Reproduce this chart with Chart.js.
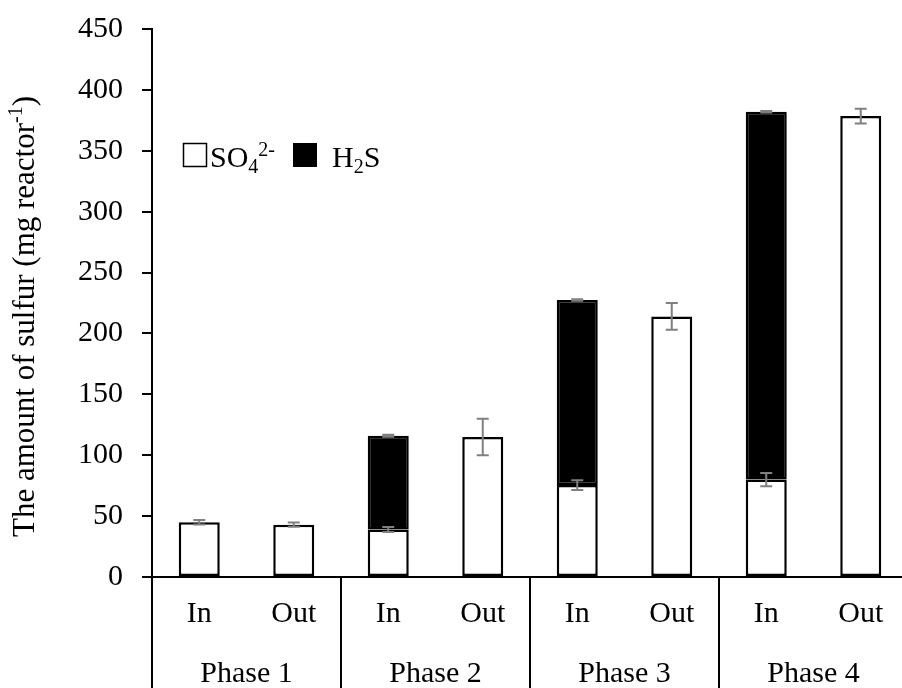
<!DOCTYPE html>
<html>
<head>
<meta charset="utf-8">
<script src="https://cdn.jsdelivr.net/npm/chart.js@4"></script>
<style>
html, body { margin: 0; padding: 0; background: #fff; overflow: hidden; }
#wrap { width: 908px; height: 688px; }
</style>
</head>
<body>
<div id="wrap"><canvas id="chart" width="908" height="688"></canvas></div>
<script>
// data
const categories = ['In', 'Out', 'In', 'Out', 'In', 'Out', 'In', 'Out'];
const phases = ['Phase 1', 'Phase 2', 'Phase 3', 'Phase 4'];
const so4 = [45, 43, 39, 115, 75.5, 214, 80, 378.5];
const so4Err = [1.8, 1.8, 2, 15, 4, 11, 5.5, 6];
const h2s = [null, null, 77, null, 152, null, 302, null];
const h2sErr = [0, 0, 0.8, 0, 0.6, 0, 0.6, 0];

const serif = "'Liberation Serif', 'Times New Roman', serif";
Chart.defaults.font.family = serif;
Chart.defaults.font.size = 30;
Chart.defaults.color = '#000';

// text with sub / superscripts
function drawRich(ctx, parts, x, y, size) {
    parts.forEach(([t, kind]) => {
        const s = kind ? Math.round(size * 0.65) : size;
        ctx.font = s + 'px ' + serif;
        const dy = kind === 'sub' ? size * 0.2 : kind === 'sup' ? -size * 0.38 : 0;
        ctx.fillText(t, x, y + dy);
        x += ctx.measureText(t).width;
    });
    return x;
}

const errorBars = {
    id: 'errorBars',
    afterDatasetsDraw(chart) {
        const ctx = chart.ctx, y = chart.scales.y;
        ctx.save();
        ctx.strokeStyle = '#808080';
        ctx.lineWidth = 2;
        chart.data.datasets.forEach((ds, di) => {
            const meta = chart.getDatasetMeta(di);
            meta.data.forEach((bar, i) => {
                const err = ds.errors[i];
                if (!err || ds.data[i] == null) return;
                let top = 0;
                for (let k = 0; k <= di; k++) top += chart.data.datasets[k].data[i] || 0;
                const y1 = y.getPixelForValue(top + err);
                const y2 = y.getPixelForValue(top - err);
                const c = 6;
                ctx.beginPath();
                ctx.moveTo(bar.x, y1); ctx.lineTo(bar.x, y2);
                ctx.moveTo(bar.x - c, y1); ctx.lineTo(bar.x + c, y1);
                ctx.moveTo(bar.x - c, y2); ctx.lineTo(bar.x + c, y2);
                ctx.stroke();
            });
        });
        ctx.restore();
    }
};

const extras = {
    id: 'extras',
    afterDraw(chart) {
        const ctx = chart.ctx, x = chart.scales.x, area = chart.chartArea;
        ctx.save();

        // phase separators below the axis
        const half = (x.getPixelForValue(1) - x.getPixelForValue(0)) / 2;
        ctx.strokeStyle = '#000';
        ctx.lineWidth = 2;
        ctx.beginPath();
        for (let p = 0; p <= phases.length; p++) {
            const px = Math.round(x.getPixelForValue(p * 2) - half);
            ctx.moveTo(px, area.bottom);
            ctx.lineTo(px, chart.height);
        }
        ctx.stroke();

        // legend
        ctx.textBaseline = 'alphabetic';
        ctx.textAlign = 'left';
        const ds = chart.data.datasets;
        ctx.fillStyle = ds[0].backgroundColor;
        ctx.fillRect(183, 143, 24, 24);
        ctx.strokeStyle = '#000';
        ctx.lineWidth = 1.5;
        ctx.strokeRect(183.5, 143.5, 23, 23);
        ctx.fillStyle = '#000';
        drawRich(ctx, ds[0].rich, 210, 167, 30);
        ctx.fillStyle = ds[1].backgroundColor;
        ctx.fillRect(293, 143, 24, 24);
        ctx.fillStyle = '#000';
        drawRich(ctx, ds[1].rich, 332, 167, 30);

        // y axis title
        const title = [['The amount of sulfur (mg reactor', ''], ['-1', 'sup'], [')', '']];
        ctx.translate(34, 537);
        ctx.rotate(-Math.PI / 2);
        drawRich(ctx, title, 0, 0, 31);
        ctx.restore();
    }
};

new Chart(document.getElementById('chart'), {
    type: 'bar',
    data: {
        labels: categories,
        datasets: [
            {
                label: 'SO₄²⁻',
                rich: [['SO', ''], ['4', 'sub'], ['2-', 'sup']],
                data: so4,
                errors: so4Err,
                backgroundColor: '#ffffff',
                borderColor: '#000',
                borderWidth: 2.5,
                borderSkipped: false
            },
            {
                label: 'H₂S',
                rich: [['H', ''], ['2', 'sub'], ['S', '']],
                data: h2s,
                errors: h2sErr,
                backgroundColor: '#000000',
                borderColor: '#000',
                borderWidth: 2.5,
                borderSkipped: false
            }
        ]
    },
    options: {
        responsive: false,
        animation: false,
        barPercentage: 0.434,
        categoryPercentage: 1,
        layout: { padding: { top: 29, right: 0, left: 0, bottom: 0 } },
        plugins: { legend: { display: false }, tooltip: { enabled: false } },
        scales: {
            x: {
                stacked: true,
                grid: { display: false, drawTicks: false },
                border: { color: '#000', width: 2 },
                ticks: { padding: 19, maxRotation: 0, autoSkip: false },
                afterFit(scale) { scale.height = 58; }
            },
            x2: {
                type: 'category',
                labels: phases,
                position: 'bottom',
                offset: true,
                grid: { display: false, drawTicks: false },
                border: { display: false },
                ticks: { padding: 21, maxRotation: 0 },
                afterFit(scale) { scale.height = 53; }
            },
            y: {
                stacked: true,
                min: 0,
                max: 450,
                ticks: { stepSize: 50, padding: 19, font: { size: 30, lineHeight: 0.6 } },
                grid: { drawOnChartArea: false, drawTicks: true, tickLength: 10, color: '#000', lineWidth: 2 },
                border: { color: '#000', width: 2 },
                afterFit(scale) { scale.width = 152; }
            }
        }
    },
    plugins: [errorBars, extras]
});
</script>
</body>
</html>
